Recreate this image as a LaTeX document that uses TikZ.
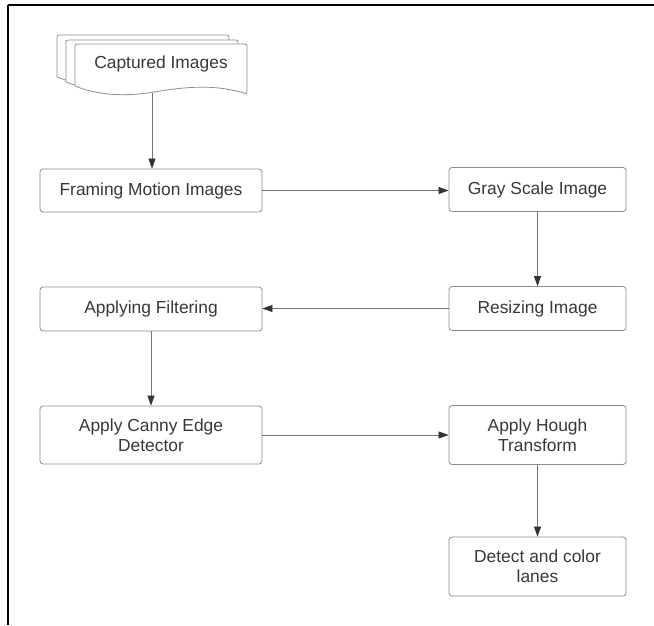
\documentclass[tikz,border=0pt]{standalone}
\usepackage{fontspec}
\setmainfont{Liberation Sans}
\usetikzlibrary{arrows.meta}

\begin{document}
\begin{tikzpicture}[
        x=1pt, y=-1pt,
        font=\fontsize{17.4}{20}\selectfont,
        box/.style={draw=black!45, fill=white, rounded corners=3pt, line width=0.8pt,
                    align=center, text=black!78, inner sep=2pt},
        wide/.style={box, minimum width=222pt},
        narrow/.style={box, minimum width=177pt},
        doc/.style={draw=black!45, fill=white, line width=0.8pt},
        arr/.style={-{Triangle[length=10pt, width=7pt, color=black!80]}, line width=0.7pt, draw=black!55},
        frame/.style={line width=2.4pt, draw=black}
    ]
    \useasboundingbox (0,0) rectangle (654,625);
    % outer frame (top and left only)
    \draw[frame] (8,5) -- (654,5);
    \draw[frame] (8,5) -- (8,625);
    % stack of documents
    \foreach \dx/\dy in {-18/-9, -9/-4, 0/0}
        \draw[doc, shift={(\dx,\dy)}]
            [rounded corners=2pt] (75,86) -- (75,44) -- (247,44) -- (247,94)
            [sharp corners] .. controls (218,85) and (192,86) .. (160,91)
            .. controls (128,97) and (100,96) .. (75,86) -- cycle;
    \node[text=black!78] (cap) at (161,64) {Captured Images};
    \coordinate (capbot) at (152,93);
    % process boxes
    \node[wide, minimum height=43pt] (framing) at (151,190.5) {Framing Motion Images};
    \node[narrow, minimum height=44pt] (gray) at (537.5,189.5) {Gray Scale Image};
    \node[narrow, minimum height=44pt] (resize) at (537.5,308.5) {Resizing Image};
    \node[wide, minimum height=44pt] (filter) at (151,309) {Applying Filtering};
    \node[wide, minimum height=58pt] (canny) at (151,435) {Apply Canny Edge\\Detector};
    \node[narrow, minimum height=59pt] (hough) at (537.5,435) {Apply Hough\\Transform};
    \node[narrow, minimum height=59pt] (detect) at (537.5,566.5) {Detect and color\\lanes};
    % connectors
    \draw[arr] (capbot) -- (capbot |- framing.north);
    \draw[arr] (framing.east) -- (framing.east -| gray.west);
    \draw[arr] (gray) -- (resize);
    \draw[arr] (resize.west) -- (resize.west -| filter.east);
    \draw[arr] (filter) -- (canny);
    \draw[arr] (canny) -- (hough);
    \draw[arr] (hough) -- (detect);
\end{tikzpicture}
\end{document}
